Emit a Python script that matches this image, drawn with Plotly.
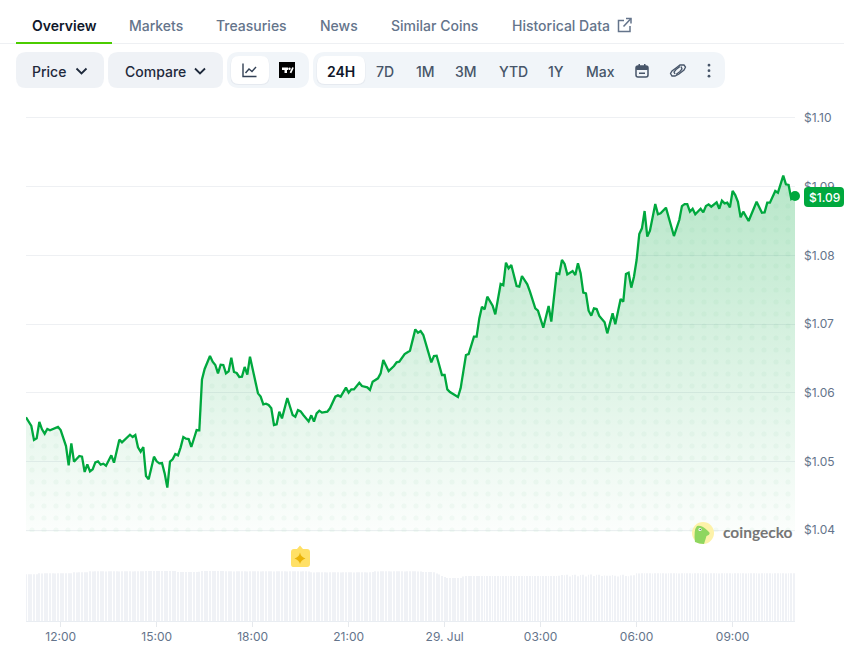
import pandas as pd
import plotly.graph_objects as go

W, H = 844, 646
START = "2025-07-28 10:55"

# 5-minute sample number of each price reading
sample = [0,2,3,4,5,6,7,8,9,11,12,13,15,16,17,18,20,21,22,23,24,25,26,27,28,29,30,32,33,35,36,39,40,41,42,43,44,45,46,48,49,50,51,52,53,54,55,56,57,58,59,60,61,62,64,65,66,67,69,70,71,72,73,74,75,76,77,78,79,80,81,82,83,84,87,88,89,90,91,92,93,94,95,
          96,98,100,101,102,103,104,106,107,108,109,110,111,113,114,116,117,118,120,121,122,123,125,126,128,129,130,132,133,134,136,138,139,140,142,144,146,147,148,149,152,153,154,156,157,158,159,162,163,165,166,168,169,
          170,171,172,173,175,176,178,179,180,181,182,184,185,186,187,188,189,191,192,194,196,197,199,200,201,202,203,205,206,207,208,209,210,211,212,213,214,215,217,218,220,221,223,224,225,226,227,228,229,
          230,231,232,233,234,236,237,238,240,243,245,246,247,248,249,250,251,253,254,255,256,257,259,260,261,262,263,264,265,266,267,268,269,271,274,276,277,278,279,281,282,284,285,286,287,288.4]

price = [1.05641,1.05515,1.05311,1.05335,1.05573,1.05466,1.05403,1.05471,1.05452,1.05490,1.05500,1.05456,1.05223,1.04942,1.05262,1.04995,1.05078,1.05068,1.04845,1.04956,1.04855,1.04884,1.04986,1.05000,1.04952,1.04966,1.04937,1.05088,1.04981,1.05316,1.05277,1.05388,1.05354,1.05384,1.05204,1.05141,1.05209,1.04787,1.04738,1.05068,1.05000,1.04971,1.04976,1.04825,1.04617,1.04995,1.05029,1.05107,1.05088,1.05204,1.05354,1.05330,1.05325,1.05209,1.05456,1.05452,1.06194,1.06345,1.06534,1.06451,1.06403,1.06282,1.06408,1.06403,1.06282,1.06311,1.06510,1.06301,1.06286,1.06228,1.06233,1.06374,1.06262,1.06524,1.05990,1.05942,1.05830,1.05840,1.05820,1.05772,1.05529,1.05539,1.05723,
         1.05626,1.05922,1.05675,1.05650,1.05747,1.05728,1.05675,1.05582,1.05670,1.05578,1.05699,1.05738,1.05709,1.05723,1.05772,1.05942,1.05961,1.05942,1.06073,1.06000,1.06048,1.06048,1.06145,1.06097,1.06077,1.06039,1.06160,1.06209,1.06281,1.06476,1.06315,1.06388,1.06442,1.06451,1.06563,1.06611,1.06922,1.06874,1.06898,1.06840,1.06442,1.06534,1.06539,1.06257,1.06257,1.06048,1.06010,1.05937,1.06063,1.06548,1.06563,1.06815,1.06815,
         1.07082,1.07252,1.07213,1.07398,1.07267,1.07141,1.07582,1.07563,1.07893,1.07810,1.07859,1.07553,1.07543,1.07699,1.07631,1.07577,1.07471,1.07228,1.07194,1.06946,1.07262,1.07034,1.07738,1.07728,1.07932,1.07874,1.07723,1.07772,1.07713,1.07883,1.07738,1.07456,1.07446,1.07194,1.07121,1.07228,1.07218,1.07116,1.07024,1.06864,1.07155,1.06995,1.07364,1.07325,1.07728,1.07747,1.07529,1.07689,1.07932,
         1.08310,1.08393,1.08645,1.08272,1.08359,1.08747,1.08597,1.08611,1.08694,1.08281,1.08514,1.08718,1.08747,1.08747,1.08636,1.08679,1.08597,1.08679,1.08626,1.08718,1.08742,1.08708,1.08772,1.08679,1.08796,1.08757,1.08767,1.08699,1.08937,1.08878,1.08781,1.08553,1.08636,1.08500,1.08781,1.08621,1.08626,1.08767,1.08767,1.08937,1.08912,1.09160,1.09034,1.09024,1.08820,1.08864]

volume = [467,467,468,467,468,
          477,476,477,478,477,477,476,477,478,477,477,478,477,
          487,486,487,488,487,487,
          497,496,497,498,497,497,496,497,498,497,497,496,497,498,497,497,496,497,498,497,497,
          503,502,503,504,503,503,502,503,504,503,503,500,
          490,490,489,490,491,490,490,489,492,
          500,503,502,503,504,503,503,502,501,
          497,498,497,496,497,497,498,497,496,497,497,498,497,496,497,497,498,497,496,497,497,498,497,496,497,497,498,497,496,497,497,494,
          487,486,487,488,487,487,486,487,488,487,487,486,487,488,487,487,486,487,488,487,487,486,487,490,
          497,496,497,498,497,497,496,497,498,497,497,496,497,498,497,497,496,495,
          490,489,490,491,488,
          475,465,450,440,
          430,431,430,429,431,430,
          445,450,451,450,449,450,451,450,449,450,451,450,449,450,451,450,449,450,451,450,449,450,451,450,449,450,451,450,449,450,451,450,449,450,451,450,452,
          460,458,462,445,461,463,448,460,462,446,463,465,450,462,463,449,455,452,
          453,460,452,445,458,462,450,447,455,458,
          477,476,477,478,477,477,476,477,478,477,477,476,477,478,477,477,476,477,478,477,477,476,477,478,477,477,476,477,478,477,477,476,477,478,477,477,476,477,478,477,477,476,477,478,477,477,476,477,478,477,477,476,477,478,477,477,476,477,478,477]

price_ticks = [1.04, 1.05, 1.06, 1.07, 1.08, 1.09, 1.10]
price_labels = ["$1.04", "$1.05", "$1.06", "$1.07", "$1.08", "$1.09", "$1.10"]
time_ticks = ["2025-07-28 12:00", "2025-07-28 15:00", "2025-07-28 18:00", "2025-07-28 21:00",
              "2025-07-29 00:00", "2025-07-29 03:00", "2025-07-29 06:00", "2025-07-29 09:00"]
time_labels = ["12:00", "15:00", "18:00", "21:00", "29. Jul", "03:00", "06:00", "09:00"]

tabs = [("Overview", 64, "#0f172a"), ("Markets", 156, "#64748b"), ("Treasuries", 251.5, "#64748b"),
        ("News", 338.5, "#64748b"), ("Similar Coins", 434, "#64748b"), ("Historical Data", 560.5, "#64748b")]
ranges = [("24H", 341, "#0f172a"), ("7D", 385, "#475569"), ("1M", 425, "#475569"), ("3M", 466, "#475569"),
          ("YTD", 513, "#475569"), ("1Y", 556, "#475569"), ("Max", 600, "#475569")]

FONT = "Inter, 'Noto Sans', sans-serif"
GREEN = "#00a83e"
times = pd.to_datetime(START) + pd.to_timedelta([s * 5 for s in sample], unit="min")
bar_times = pd.to_datetime(START) + pd.to_timedelta([i * 5 for i in range(len(volume))], unit="min")

fig = go.Figure()
fig.add_trace(go.Bar(x=bar_times, y=volume, yaxis="y2", xaxis="x", width=85000,
                     marker=dict(color="#f0f2f6", line_width=0), hoverinfo="skip"))
fig.add_trace(go.Scatter(x=times, y=price, mode="none", fill="tozeroy", hoverinfo="skip",
                         fillgradient=dict(type="vertical", start=1.04, stop=1.095,
                                           colorscale=[[0, "rgba(0,168,62,0.015)"], [1, "rgba(0,168,62,0.30)"]])))
fig.add_trace(go.Scatter(x=times, y=price, mode="none", fill="tozeroy", hoverinfo="skip",
                         fillcolor="rgba(0,0,0,0)",
                         fillpattern=dict(shape=".", size=12, solidity=0.14, fgcolor="rgba(0,150,60,0.07)",
                                          bgcolor="rgba(0,0,0,0)", fillmode="overlay")))
fig.add_trace(go.Scatter(x=times, y=price, mode="lines", line=dict(color=GREEN, width=2.3), hoverinfo="skip"))
fig.add_trace(go.Scatter(x=[times[-1]], y=[price[-1]], mode="markers", cliponaxis=False,
                         marker=dict(color=GREEN, size=10), hoverinfo="skip"))


def X(x):
    return x / W


def Y(y):
    return 1 - y / H


def pt(x, y):
    return f"{X(x):.5f},{Y(y):.5f}"


def rounded(x0, y0, x1, y1, r):
    return (f"M{pt(x0 + r, y0)} L{pt(x1 - r, y0)} Q{pt(x1, y0)} {pt(x1, y0 + r)} "
            f"L{pt(x1, y1 - r)} Q{pt(x1, y1)} {pt(x1 - r, y1)} L{pt(x0 + r, y1)} "
            f"Q{pt(x0, y1)} {pt(x0, y1 - r)} L{pt(x0, y0 + r)} Q{pt(x0, y0)} {pt(x0 + r, y0)} Z")


shapes = []


def box(x0, y0, x1, y1, r, fill):
    shapes.append(dict(type="path", xref="paper", yref="paper", path=rounded(x0, y0, x1, y1, r),
                       fillcolor=fill, line_width=0, layer="above"))


def stroke(points, color, width=1.5):
    path = "M" + " L".join(pt(a, b) for a, b in points)
    shapes.append(dict(type="path", xref="paper", yref="paper", path=path,
                       line=dict(color=color, width=width), layer="above"))


def outline(x0, y0, x1, y1, r, color, width=1.5):
    shapes.append(dict(type="path", xref="paper", yref="paper", path=rounded(x0, y0, x1, y1, r),
                       line=dict(color=color, width=width), fillcolor="rgba(0,0,0,0)", layer="above"))


def circle(cx, cy, r, fill):
    shapes.append(dict(type="circle", xref="paper", yref="paper", x0=X(cx - r), x1=X(cx + r),
                       y0=Y(cy + r), y1=Y(cy - r), fillcolor=fill, line_width=0, layer="above"))


# tabs
box(0, 43, 844, 44, 0, "#eef0f3")
box(16, 42, 112, 44, 0, "#4bcc00")
# control pills
box(16, 52, 104, 88, 10, "#eff2f6")
box(108, 52, 223, 88, 10, "#eff2f6")
box(227, 52, 309, 88, 12, "#f1f5f9")
box(313, 52, 725, 88, 12, "#f1f5f9")
box(230.5, 56.5, 269.5, 85, 8, "#e6eaf0")
box(231, 56, 269, 84, 8, "#ffffff")
box(316.5, 56.5, 365.5, 85, 8, "#e6eaf0")
box(317, 56, 365, 84, 8, "#ffffff")
# chevrons
stroke([(76.5, 68.5), (81.5, 73.5), (86.5, 68.5)], "#1e293b", 1.8)
stroke([(195, 68.5), (200, 73.5), (205, 68.5)], "#1e293b", 1.8)
# line icon
stroke([(243, 63.5), (243, 76.5), (256.5, 76.5)], "#334155", 1.4)
stroke([(245.5, 73), (249, 69), (252, 71.5), (256, 67)], "#334155", 1.4)
# TradingView icon
box(279, 62, 295, 78, 0, "#000000")
box(282, 67.5, 288, 70, 0, "#ffffff")
box(284.5, 70, 287, 73, 0, "#ffffff")
circle(289.5, 68.8, 1.2, "#ffffff")
stroke([(293, 67.5), (290.5, 73)], "#ffffff", 1.8)
# calendar icon
outline(636, 66, 648, 77, 2, "#475569", 1.5)
box(636, 66, 648, 70, 1, "#475569")
box(639, 72.5, 645, 74, 0, "#475569")
box(638.5, 64, 640, 67, 0, "#475569")
box(644, 64, 645.5, 67, 0, "#475569")
# link icon
stroke([(676, 68), (680, 65), (684, 65), (685.5, 67), (684, 70), (679, 74), (675, 76), (672, 76), (670.5, 73.5), (672, 71), (676, 68)], "#475569", 1.3)
stroke([(680, 66.5), (676, 69.5), (674, 72), (675, 74)], "#475569", 1.3)
stroke([(676, 74.5), (680, 71.5), (682, 69), (681, 66.5)], "#475569", 1.3)
# menu dots
circle(709, 65.2, 1.4, "#475569")
circle(709, 70.7, 1.4, "#475569")
circle(709, 76.2, 1.4, "#475569")
# external-link icon
stroke([(624, 20.5), (618.5, 20.5), (618.5, 31.5), (630, 31.5), (630, 26)], "#64748b", 1.5)
stroke([(623.5, 26.5), (631, 18.5)], "#64748b", 1.5)
stroke([(626, 18.5), (631, 18.5), (631, 23.5)], "#64748b", 1.5)
# price badge
box(804, 187, 844, 207, 4, GREEN)
# event marker
shapes.append(dict(type="path", xref="paper", yref="paper", layer="above", fillcolor="#ffe066", line_width=0,
                   path=f"M{pt(300, 545.5)} L{pt(303, 549)} L{pt(307, 549)} Q{pt(310, 549)} {pt(310, 552)} L{pt(310, 564)} "
                        f"Q{pt(310, 567)} {pt(307, 567)} L{pt(293, 567)} Q{pt(291, 567)} {pt(291, 564)} L{pt(291, 552)} "
                        f"Q{pt(291, 549)} {pt(294, 549)} L{pt(297, 549)} Z"))
shapes.append(dict(type="path", xref="paper", yref="paper", layer="above", fillcolor="#eab308", line_width=0,
                   path=f"M{pt(300, 552.5)} Q{pt(300.8, 557)} {pt(305.5, 558.5)} Q{pt(300.8, 560)} {pt(300, 564)} "
                        f"Q{pt(299.2, 560)} {pt(294.5, 558.5)} Q{pt(299.2, 557)} {pt(300, 552.5)} Z"))
# gecko logo
circle(703, 533, 11, "#fdf2a9")
shapes.append(dict(type="path", xref="paper", yref="paper", layer="above", fillcolor="#8fd65f", line_width=0,
                   path=f"M{pt(695, 542)} Q{pt(693.5, 530)} {pt(697, 526)} Q{pt(702, 525)} {pt(708, 531)} "
                        f"Q{pt(712, 534)} {pt(706.5, 536)} Q{pt(705, 541)} {pt(704, 544)} Q{pt(699, 544)} {pt(695, 542)} Z"))
circle(700, 529.5, 1.6, "#ffffff")
circle(700.2, 529.5, 0.7, "#475569")

annotations = []


def label(text, x, y, size=14, color="#0f172a", weight=500, family=FONT, anchor="center"):
    annotations.append(dict(text=text, x=X(x), y=Y(y), xref="paper", yref="paper", showarrow=False,
                            xanchor=anchor, yanchor="middle",
                            font=dict(family=family, size=size, color=color, weight=weight)))


for name, cx, colour in tabs:
    label(name, cx, 25, color=colour, weight=600 if name == "Overview" else 500)
label("Price", 49, 71, color="#1e293b", weight=500)
label("Compare", 155, 71, color="#1e293b", weight=500)
for name, cx, colour in ranges:
    label(name, cx, 71, color=colour, weight=600 if name == "24H" else 500)
label("$1.09", 824, 197.5, size=12, color="#ffffff", weight=500)
label("coingecko", 721, 532, size=15.5, color="#767676", weight=700, family="Lato, 'Open Sans', sans-serif", anchor="left")

fig.update_layout(
    width=W, height=H, autosize=False,
    margin=dict(l=0, r=0, t=0, b=0, autoexpand=False),
    paper_bgcolor="#ffffff", plot_bgcolor="#ffffff",
    showlegend=False, barmode="overlay", hovermode=False,
    font=dict(family=FONT, size=12, color="#64748b"),
    xaxis=dict(type="date", domain=[X(26), X(795)], anchor="y2",
               range=[START, "2025-07-29 10:57"],
               tickmode="array", tickvals=time_ticks, ticktext=time_labels,
               ticks="outside", ticklen=5, tickcolor="#e6e9ed", tickwidth=1,
               showline=True, linecolor="#e9edf2", linewidth=1, showgrid=False, zeroline=False,
               tickfont=dict(family=FONT, size=12, color="#64748b")),
    yaxis=dict(domain=[Y(532), Y(116)], range=[1.03971, 1.10029], side="right", anchor="x",
               tickmode="array", tickvals=price_ticks, ticktext=price_labels,
               showgrid=True, gridcolor="#eef0f3", gridwidth=1, zeroline=False, showline=False,
               ticks="", ticklabelstandoff=8,
               tickfont=dict(family=FONT, size=12, color="#64748b")),
    yaxis2=dict(domain=[Y(621), Y(571)], range=[0, 500], visible=False, fixedrange=True),
    shapes=shapes, annotations=annotations,
)

fig.write_html("out.html", config=dict(displayModeBar=False),
               post_script="document.body.style.margin='0';document.body.style.overflow='hidden';")
